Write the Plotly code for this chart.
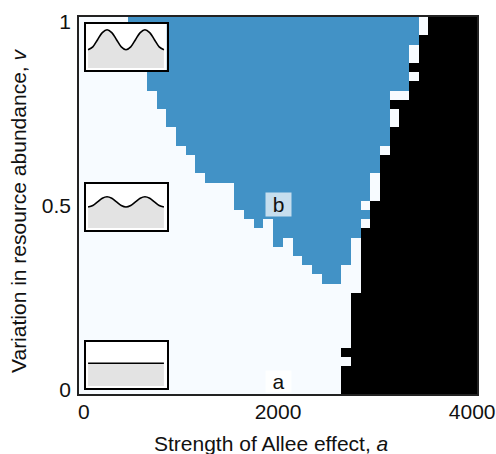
import plotly.graph_objects as go

W, H = 496, 454
# plot frame in px
L, R, T, B = 79.0, 477.0, 17.0, 394.0

allee = [i * 100 for i in range(41)]                # a, grid centres
variation = [round(1 - i * 0.025, 3) for i in range(41)]  # v, top row first

# per row (top row v=1 first): first blue column, end of blue, first black column
blue_start = [5, 5, 5, 5, 5, 6, 7, 7, 8, 8, 9, 9, 10, 10, 11, 12, 12, 13, 16, 16, 16, 17, 18, 20, 20,
              22, 23, 24, 25, 41, 41, 41, 41, 41, 41, 41, 41, 41, 41, 41, 41]
blue_end = [35, 35, 35, 34, 34, 34, 34, 34, 32, 32, 32, 32, 32, 32, 31, 31, 31, 30, 30, 30, 29, 30, 29, 29, 28,
            28, 28, 27, 27, 0, 0, 0, 0, 0, 0, 0, 0, 0, 0, 0, 0]
black_start = [36, 36, 35, 35, 35, 34, 35, 34, 34, 32, 33, 33, 32, 32, 32, 31, 31, 31, 31, 31, 30, 30, 30, 29, 29,
               29, 29, 29, 29, 29, 28, 28, 28, 28, 28, 28, 27, 28, 27, 27, 27]
# isolated white cells inside the blue region (row, column)
white_gaps = [(22, 19), (24, 21)]

z = []
for r in range(41):
    row = []
    for c in range(41):
        if c >= black_start[r]:
            row.append(2)
        elif blue_start[r] <= c < blue_end[r] and (r, c) not in white_gaps:
            row.append(1)
        else:
            row.append(0)
    z.append(row)

# inset curves: resource level across the two-season cycle
cycle = [0, 0.0625, 0.125, 0.1875, 0.25, 0.3125, 0.375, 0.4375, 0.5,
         0.5625, 0.625, 0.6875, 0.75, 0.8125, 0.875, 0.9375, 1]
curve_high = [18.3, 21.2, 28.3, 35.4, 38.3, 35.4, 28.3, 21.2, 18.3,
              21.2, 28.3, 35.4, 38.3, 35.4, 28.3, 21.2, 18.3]
curve_mid = [21.0, 22.5, 26.1, 29.8, 31.3, 29.8, 26.1, 22.5, 21.0,
             22.5, 26.1, 29.8, 31.3, 29.8, 26.1, 22.5, 21.0]
curve_flat = [22.7] * 17
curves = [curve_high, curve_mid, curve_flat]

# inset boxes in px: (top, bottom)
inset_boxes = [(24.0, 70.0), (184.0, 230.0), (342.0, 388.0)]
inset_left, inset_right = 85.5, 166.5

FONT = "Liberation Sans"
INK = "#111111"


def px_x(p):
    return (p - L) / (R - L)


def px_y(p):
    return (B - p) / (B - T)


fig = go.Figure()
fig.add_trace(go.Heatmap(x=allee, y=variation, z=z, zmin=0, zmax=2, showscale=False,
                         colorscale=[[0, "#f7fbff"], [0.5, "#4292c6"], [1, "#000000"]],
                         hoverinfo="skip"))

layout = dict(
    width=W, height=H, autosize=False,
    margin=dict(l=L, r=W - R, t=T, b=H - B, pad=0),
    paper_bgcolor="white", plot_bgcolor="white", showlegend=False,
    font=dict(family=FONT, size=21, color=INK),
    xaxis=dict(range=[-50, 4050], tickvals=[0, 2000, 4000], ticks="", ticklabelstandoff=-2, automargin=False,
               showgrid=False, zeroline=False, showline=True, linecolor="#222222", linewidth=1.5,
               mirror=True, tickfont=dict(size=21)),
    yaxis=dict(range=[-0.0125, 1.0125], tickvals=[0, 0.5, 1], ticktext=["0", "0.5", "1"], ticks="", automargin=False,
               ticklabelstandoff=2, showgrid=False, zeroline=False, showline=True,
               linecolor="#222222", linewidth=1.5, mirror=True, tickfont=dict(size=21)),
    annotations=[
        dict(x=2000, y=0.503, text="b", showarrow=False, width=23, height=21, bgcolor="rgba(255,255,255,0.7)",
             font=dict(size=21, color=INK)),
        dict(x=2000, y=0.022, text="a", showarrow=False, width=23, height=19, bgcolor="rgba(255,255,255,0.85)",
             font=dict(size=21, color=INK)),
        dict(xref="paper", yref="paper", x=px_x(271), y=px_y(443.5), text="Strength of Allee effect, <i>a</i>",
             showarrow=False, xanchor="center", yanchor="middle", font=dict(size=21, color=INK)),
        dict(xref="paper", yref="paper", x=px_x(18), y=px_y(211), text="Variation in resource abundance, <i>v</i>",
             showarrow=False, textangle=-90, xanchor="center", yanchor="middle", font=dict(size=21, color=INK)),
    ],
)

for i, ((top, bottom), curve) in enumerate(zip(inset_boxes, curves)):
    n = i + 2
    xa, ya = f"x{n}", f"y{n}"
    # white ground of the inset, one cell filling the axes
    fig.add_trace(go.Heatmap(z=[[0]], x0=0.5, dx=4, y0=20, dy=200, xaxis=xa, yaxis=ya, showscale=False,
                             colorscale=[[0, "white"], [1, "white"]], hoverinfo="skip"))
    fig.add_trace(go.Scatter(x=cycle, y=curve, xaxis=xa, yaxis=ya, mode="lines", line=dict(color="black", width=1.6),
                             fill="tozeroy", fillcolor="#e3e3e3", hoverinfo="skip", line_shape="spline"))
    layout[f"xaxis{n}"] = dict(domain=[px_x(inset_left), px_x(inset_right)],
                               anchor=ya, range=[-0.034, 1.034], showticklabels=False, ticks="", showgrid=False,
                               automargin=False,
                               zeroline=False, showline=True, linecolor="black", linewidth=2, mirror=True)
    layout[f"yaxis{n}"] = dict(domain=[px_y(bottom), px_y(top)],
                               anchor=xa, range=[-2, 44], showticklabels=False, ticks="", showgrid=False,
                               automargin=False,
                               zeroline=False, showline=True, linecolor="black", linewidth=2, mirror=True)

fig.update_layout(**layout)
fig.write_html("out.html", config={"displayModeBar": False},
               post_script="document.body.style.margin='0';document.documentElement.style.overflow='hidden';")
